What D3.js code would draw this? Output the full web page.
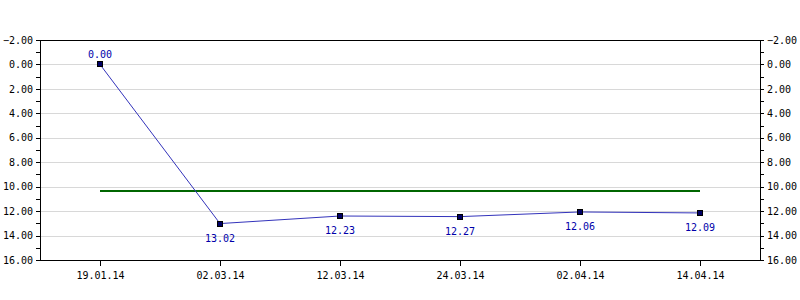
<!DOCTYPE html>
<html lang="en">
<head>
<meta charset="utf-8">
<title>Line chart inverted axis</title>
<script src="https://cdn.jsdelivr.net/npm/d3@7"></script>
<style>
  body { margin: 0; background: #fff; }
  text { font-family: "DejaVu Sans Mono", monospace; font-size: 10px; }
  .axis path, .axis line { stroke: #000; shape-rendering: crispEdges; }
  .grid line { stroke: #d8d8d8; shape-rendering: crispEdges; }
</style>
</head>
<body>
<script>
  var dates = ["19.01.14", "02.03.14", "12.03.14", "24.03.14", "02.04.14", "14.04.14"];
  // plotted positions
  var values = [0.00, 13.02, 12.40, 12.45, 12.07, 12.15];
  // printed point labels
  var valueLabels = ["0.00", "13.02", "12.23", "12.27", "12.06", "12.09"];
  var average = 10.36;
  var yTicks = [-2, 0, 2, 4, 6, 8, 10, 12, 14, 16];
  var yMinor = [-1, 1, 3, 5, 7, 9, 11, 13, 15];

  var margin = {top: 40, right: 40, bottom: 40, left: 40},
      width = 800 - margin.left - margin.right,
      height = 300 - margin.top - margin.bottom;

  var svg = d3.select("body").append("svg")
    .attr("width", 800)
    .attr("height", 300)
    .append("g")
    .attr("transform", "translate(" + margin.left + "," + margin.top + ")");

  var x = d3.scalePoint().domain(dates).range([0, width]).padding(0.5);
  // inverted: -2 at the top, 16 at the bottom
  var y = d3.scaleLinear().domain([-2, 16]).range([0, height]);

  var fmt = d3.format(".2f");

  // grid
  svg.append("g").attr("class", "grid")
    .selectAll("line")
    .data(yTicks.slice(1, -1))
    .enter().append("line")
    .attr("x1", 0).attr("x2", width)
    .attr("y1", function(d) { return Math.round(y(d)) + 0.5; })
    .attr("y2", function(d) { return Math.round(y(d)) + 0.5; });

  // top border
  svg.append("line")
    .attr("x1", 0).attr("x2", width)
    .attr("y1", 0.5).attr("y2", 0.5)
    .attr("stroke", "#000")
    .attr("shape-rendering", "crispEdges");

  // minor ticks
  [[0, -4], [width, width + 4]].forEach(function(p) {
    svg.append("g").attr("class", "axis")
      .selectAll("line")
      .data(yMinor)
      .enter().append("line")
      .attr("x1", p[0]).attr("x2", p[1])
      .attr("y1", function(d) { return Math.round(y(d)) + 0.5; })
      .attr("y2", function(d) { return Math.round(y(d)) + 0.5; });
  });

  svg.append("g").attr("class", "axis")
    .call(d3.axisLeft(y).tickValues(yTicks).tickFormat(fmt).tickSize(4).tickSizeOuter(0).tickPadding(3))
    .selectAll("text").attr("fill", "#000");

  svg.append("g").attr("class", "axis")
    .attr("transform", "translate(" + width + ",0)")
    .call(d3.axisRight(y).tickValues(yTicks).tickFormat(fmt).tickSize(4).tickSizeOuter(0).tickPadding(3))
    .selectAll("text").attr("fill", "#000");

  svg.append("g").attr("class", "axis")
    .attr("transform", "translate(0," + height + ")")
    .call(d3.axisBottom(x).tickSize(6).tickSizeOuter(0).tickPadding(6))
    .selectAll("text").attr("fill", "#000");

  // average line
  svg.append("line")
    .attr("x1", x(dates[0])).attr("x2", x(dates[dates.length - 1]))
    .attr("y1", y(average)).attr("y2", y(average))
    .attr("stroke", "#006600")
    .attr("stroke-width", 2);

  // series line
  var line = d3.line()
    .x(function(d, i) { return x(dates[i]); })
    .y(function(d) { return y(d); });

  svg.append("path")
    .attr("d", line(values))
    .attr("fill", "none")
    .attr("stroke", "#3333bb")
    .attr("stroke-width", 1);

  svg.selectAll(".pt")
    .data(values)
    .enter().append("rect")
    .attr("class", "pt")
    .attr("x", function(d, i) { return Math.round(x(dates[i])) - 2.5; })
    .attr("y", function(d) { return Math.round(y(d)) - 2.5; })
    .attr("width", 5).attr("height", 5)
    .attr("fill", "#000066")
    .attr("stroke", "#000")
    .attr("stroke-width", 1);

  svg.selectAll(".lbl")
    .data(values)
    .enter().append("text")
    .attr("class", "lbl")
    .attr("x", function(d, i) { return x(dates[i]); })
    .attr("y", function(d, i) { return y(d) + (i === 0 ? -6 : 18); })
    .attr("text-anchor", "middle")
    .attr("fill", "#0000aa")
    .text(function(d, i) { return valueLabels[i]; });
</script>
</body>
</html>
